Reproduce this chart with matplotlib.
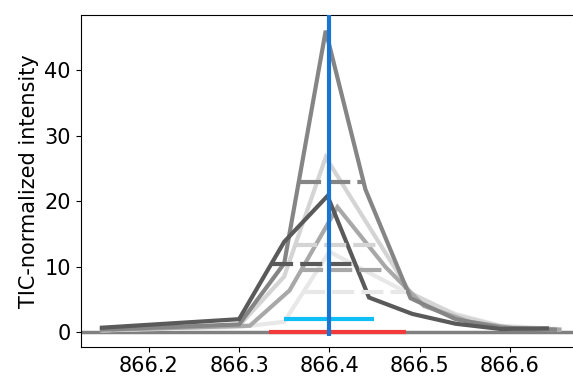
import numpy as np
import matplotlib
matplotlib.use("Agg")
import matplotlib.pyplot as plt

# Profile scans around the target m/z (TIC-normalized)
scan_colors = ["#5a5a5a", "#858585", "#a8a8a8", "#d4d4d4", "#e8e8e8"]

mz_dark = [866.148, 866.300, 866.350, 866.398, 866.444, 866.492, 866.540, 866.590, 866.641]
int_dark = [0.7, 2.0, 13.8, 20.8, 5.3, 2.8, 1.3, 0.5, 0.6]

mz_gray = [866.148, 866.300, 866.350, 866.396, 866.440, 866.490, 866.540, 866.590, 866.650]
int_gray = [0.4, 1.2, 10.5, 46.0, 21.8, 5.2, 2.0, 0.7, 0.4]

mz_mid = [866.160, 866.312, 866.356, 866.409, 866.462, 866.505, 866.555, 866.605, 866.655]
int_mid = [0.4, 1.0, 6.4, 19.1, 10.0, 4.0, 1.6, 0.6, 0.4]

mz_light = [866.148, 866.300, 866.350, 866.396, 866.440, 866.490, 866.540, 866.590, 866.654]
int_light = [0.3, 1.0, 8.5, 26.7, 17.0, 6.0, 2.6, 0.9, 0.4]

mz_faint = [866.150, 866.300, 866.350, 866.400, 866.445, 866.490, 866.540, 866.590, 866.655]
int_faint = [0.3, 0.8, 1.6, 12.3, 9.0, 5.8, 2.8, 1.0, 0.5]

# Plotting order: back to front
scans = [
    (mz_faint, int_faint, scan_colors[4]),
    (mz_light, int_light, scan_colors[3]),
    (mz_mid, int_mid, scan_colors[2]),
    (mz_gray, int_gray, scan_colors[1]),
    (mz_dark, int_dark, scan_colors[0]),
]

target_mz = 866.40
tolerance_window = [866.35, 866.45]
tolerance_level = 2.0
integration_window = [866.333, 866.485]

xticks = [866.2, 866.3, 866.4, 866.5, 866.6]
yticks = [0, 10, 20, 30, 40]


def half_max_bounds(mz, inten):
    """Linear-interpolated m/z positions where the profile crosses half its maximum."""
    mz = np.asarray(mz, float)
    inten = np.asarray(inten, float)
    k = int(np.argmax(inten))
    half = inten[k] / 2.0
    left = mz[0]
    for i in range(k, 0, -1):
        if inten[i - 1] <= half <= inten[i]:
            f = (half - inten[i - 1]) / (inten[i] - inten[i - 1])
            left = mz[i - 1] + f * (mz[i] - mz[i - 1])
            break
    right = mz[-1]
    for i in range(k, len(mz) - 1):
        if inten[i] >= half >= inten[i + 1]:
            f = (inten[i] - half) / (inten[i] - inten[i + 1])
            right = mz[i] + f * (mz[i + 1] - mz[i])
            break
    return left, right, half


plt.rcParams["font.family"] = ["DejaVu Sans"]
fig = plt.figure(figsize=(5.73, 3.76), dpi=100)
W, H = 573.0, 376.0
ax = fig.add_axes([80.7 / W, (H - 346.7) / H, (582 - 80.7) / W, (346.7 - 15) / H])

ax.axhline(0, color="#808080", lw=2.5, zorder=1)

for mz, inten, col in scans:
    ax.plot(mz, inten, color=col, lw=3, zorder=2, solid_joinstyle="miter")

for mz, inten, col in scans:
    lo, hi, half = half_max_bounds(mz, inten)
    ax.plot([lo, hi], [half, half], color=col, lw=3, ls=(0, (5.3, 1.7)), zorder=3)

ax.plot(integration_window, [0, 0], color="#f23a3a", lw=3, zorder=4, solid_capstyle="butt")
ax.plot(tolerance_window, [tolerance_level, tolerance_level], color="#0fbef5", lw=3,
        zorder=4, solid_capstyle="butt")
ax.vlines(target_mz, -0.5, 60, color="#1a74d2", lw=3, zorder=5)

ax.set_xlim(866.1245, 866.68)
ax.set_ylim(-2.2, 48.4)
ax.set_xticks(xticks)
ax.set_xticklabels([f"{v:.1f}" for v in xticks])
ax.set_yticks(yticks)
ax.tick_params(labelsize=15)
ax.set_ylabel("TIC-normalized intensity", fontsize=15)

fig.savefig("out.png", dpi=100)
